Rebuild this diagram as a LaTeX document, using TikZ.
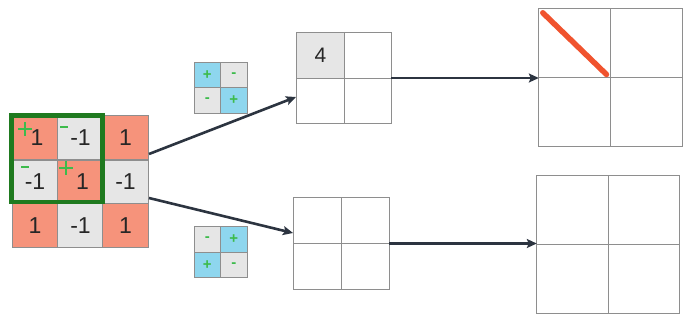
\documentclass[tikz,border=0pt]{standalone}
\usepackage{fontspec}
\setmainfont{Liberation Sans}
\usetikzlibrary{arrows.meta,calc}
\definecolor{salmon}{HTML}{F6937B}
\definecolor{lgray}{HTML}{E6E6E6}
\definecolor{kblue}{HTML}{8ED6EE}
\definecolor{gline}{HTML}{8E8E8E}
\definecolor{dgreen}{HTML}{1F7A1F}
\definecolor{lgreen}{HTML}{3DBB4C}
\definecolor{arrowc}{HTML}{2C3440}
\definecolor{strokec}{HTML}{F0532E}
\tikzset{
  cellbox/.style={draw=gline, line width=0.8pt, minimum width=45.3pt, minimum height=44pt, inner sep=0pt, font=\fontsize{23}{26}\selectfont, text=black!85},
  poscell/.style={cellbox, fill=salmon},
  negcell/.style={cellbox, fill=lgray},
  kcell/.style={draw=gline, line width=0.8pt, minimum width=26.5pt, minimum height=25.5pt, inner sep=0pt, font=\fontsize{15}{17}\selectfont\bfseries, text=lgreen},
  kposcell/.style={kcell, fill=kblue},
  knegcell/.style={kcell, fill=lgray},
  grid2/.style={draw=gline, line width=0.9pt, inner sep=0pt},
  arr/.style={draw=arrowc, line width=2.6pt, -{Stealth[length=10pt,width=9pt,inset=2pt]}},
  signline/.style={draw=lgreen, line width=2.8pt},
}
\begin{document}
\begin{tikzpicture}[x=1pt,y=-1pt]
\path[use as bounding box] (0,0) rectangle (687,319);
% left 3x3 grid
\node[poscell] (c11) at (35,137.5) {\raisebox{-2pt}{\,1}};
\node[negcell] (c12) at (80.5,137.5) {\raisebox{-2pt}{-1}};
\node[poscell] (c13) at (125.5,137.5) {1};
\node[negcell] (c21) at (35,182) {\raisebox{-2pt}{-1}};
\node[poscell] (c22) at (80.5,182) {\raisebox{-3pt}{\,1}};
\node[negcell] (c23) at (125.5,182) {-1};
\node[poscell] (c31) at (35,225.5) {1};
\node[negcell] (c32) at (80.5,225.5) {-1};
\node[poscell] (c33) at (125.5,225.5) {1};
% green window
\draw[draw=dgreen, line width=4.2pt] (11.5,115.5) rectangle (102.5,202);
% green signs
\draw[signline] (18,129) -- (32,129) (25,122) -- (25,136);
\draw[signline] (60,127) -- (68,127);
\draw[signline] (21,167) -- (29,167);
\draw[signline] (59,168) -- (73,168) (66,161) -- (66,175);
% kernels
\node[kposcell] (k11) at (207.25,74.75) {+};
\node[knegcell] (k12) at (233.75,74.75) {-};
\node[knegcell] (k21) at (207.25,100.25) {-};
\node[kposcell] (k22) at (233.75,100.25) {+};
\node[knegcell] (q11) at (207.25,239.25) {-};
\node[kposcell] (q12) at (233.75,239.25) {+};
\node[kposcell] (q21) at (207.25,264.75) {+};
\node[knegcell] (q22) at (233.75,264.75) {-};
% middle top
\node[minimum width=94pt, minimum height=90pt, inner sep=0pt] (M1) at (344,78) {};
\fill[lgray] (M1.north west) rectangle (M1.center);
\node[font=\fontsize{21}{24}\selectfont, text=black!85] (four) at ($(M1.north west)!0.5!(M1.center)$) {4};
\draw[grid2] (M1.north west) rectangle (M1.south east) (M1.north) -- (M1.south) (M1.west) -- (M1.east);
% middle bottom
\node[minimum width=95pt, minimum height=91pt, inner sep=0pt] (M2) at (341.5,243.5) {};
\draw[grid2] (M2.north west) rectangle (M2.south east) (M2.north) -- (M2.south) (M2.west) -- (M2.east);
% right top
\node[minimum width=143pt, minimum height=137pt, inner sep=0pt] (R1) at (610.5,77.5) {};
\draw[grid2] (R1.north west) rectangle (R1.south east) (R1.north) -- (R1.south) (R1.west) -- (R1.east);
\draw[draw=strokec, line width=5.5pt, line cap=round] ($(R1.north west)+(4,4)$) -- ($(R1.center)+(-4,-3)$);
% right bottom
\node[minimum width=142pt, minimum height=137pt, inner sep=0pt] (R2) at (608,244.5) {};
\draw[grid2] (R2.north west) rectangle (R2.south east) (R2.north) -- (R2.south) (R2.west) -- (R2.east);
% arrows
\coordinate (s1) at (149,154);
\coordinate (e1) at (296,97);
\coordinate (s2) at (149,198);
\coordinate (e2) at (293,233);
\draw[arr] (s1) -- (e1);
\draw[arr] (s2) -- (e2);
\draw[arr] (M1.east) -- (R1.west |- M1.east);
\draw[arr] (M2.east) -- (R2.west |- M2.east);
\end{tikzpicture}
\end{document}
